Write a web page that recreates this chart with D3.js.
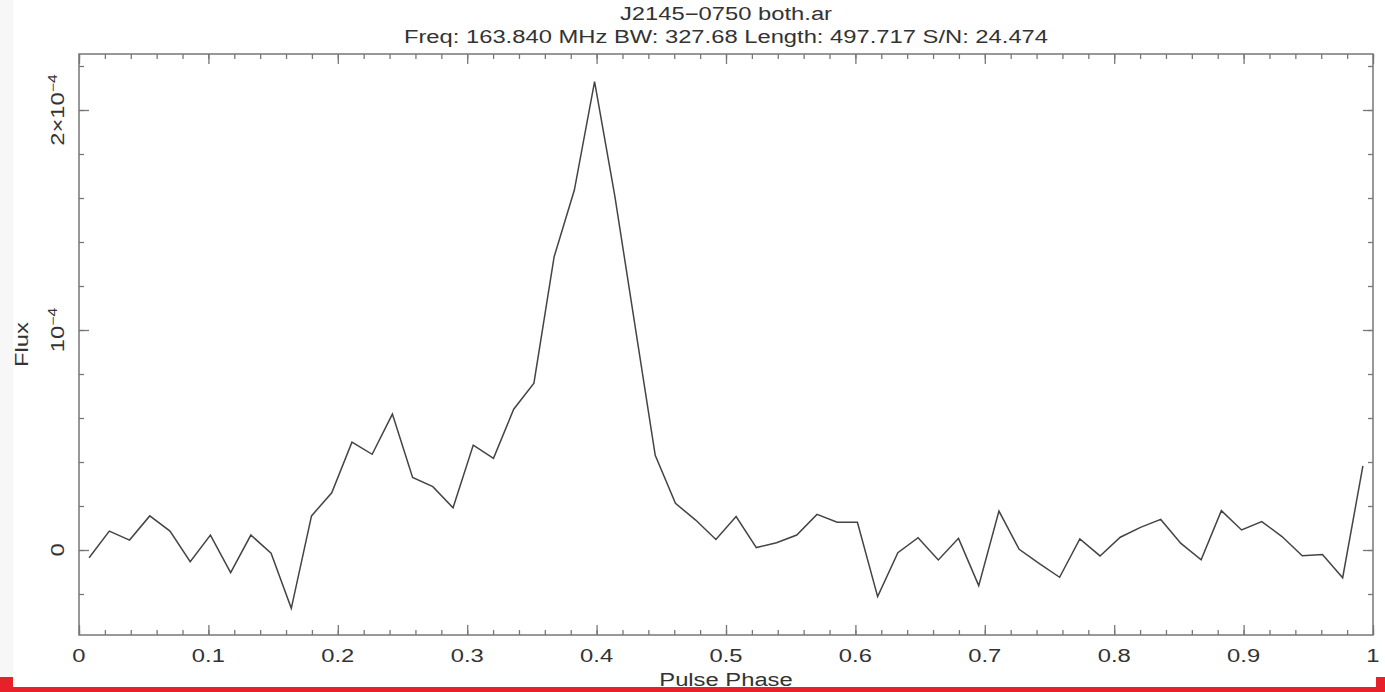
<!DOCTYPE html>
<html lang="en">
<head>
<meta charset="utf-8">
<title>J2145-0750 both.ar</title>
<script src="https://d3js.org/d3.v7.min.js"></script>
<style>
  body { margin: 0; background: #fff; }
  svg { display: block; }
  text { font-family: "Liberation Sans", Arial, sans-serif; fill: #333; }
  .axis path { display: none; }
  .axis line { stroke: #777; stroke-width: 1.3; }
</style>
</head>
<body>
<div id="chart"></div>
<script>
// profile: 64 phase bins, flux in units of 1e-4
var nbin = 64;
var fluxE4 = [
  -0.035, 0.086, 0.045, 0.155, 0.086, -0.053, 0.068, -0.103,
  0.068, -0.015, -0.265, 0.155, 0.26, 0.49, 0.435, 0.618,
  0.33, 0.288, 0.192, 0.477, 0.417, 0.64, 0.758, 1.333,
  1.636, 2.129, 1.61, 1.02, 0.43, 0.212, 0.136, 0.048,
  0.152, 0.011, 0.033, 0.068, 0.162, 0.126, 0.126, -0.212,
  -0.012, 0.056, -0.045, 0.053, -0.162, 0.177, 0.003, -0.062,
  -0.124, 0.05, -0.027, 0.058, 0.103, 0.139, 0.03, -0.045,
  0.179, 0.091, 0.129, 0.061, -0.026, -0.02, -0.126, 0.382
];
var xTicks = [0, 0.1, 0.2, 0.3, 0.4, 0.5, 0.6, 0.7, 0.8, 0.9, 1];
var xTickLabels = ["0", "0.1", "0.2", "0.3", "0.4", "0.5", "0.6", "0.7", "0.8", "0.9", "1"];
var yTicks = [0, 1e-4, 2e-4];
var yTickLabels = [["0", ""], ["10", "\u22124"], ["2\u00d710", "\u22124"]];
var title1 = "J2145\u22120750 both.ar";
var title2 = "Freq: 163.840 MHz BW: 327.68 Length: 497.717 S/N: 24.474";

var W = 1385, H = 692;
var pL = 79, pR = 1373, pT = 54, pB = 635;
var stretch = 1.32;   // pgplot glyphs are wide

var phase = d3.range(nbin).map(function(i) { return (i + 0.5) / nbin; });
var data = fluxE4.map(function(v, i) { return [phase[i], v * 1e-4]; });

var x = d3.scaleLinear().domain([0, 1]).range([pL, pR]);
var y = d3.scaleLinear().domain([-85 / 220 * 1e-4, 496 / 220 * 1e-4]).range([pB, pT]);

var svg = d3.select("#chart").append("svg")
  .attr("width", W).attr("height", H);

// faint strip at left edge and red band at bottom
svg.append("rect").attr("x", 0).attr("y", 0).attr("width", 13).attr("height", 677).attr("fill", "#f7f7f7");
svg.append("rect").attr("x", 0).attr("y", 677).attr("width", 13).attr("height", 15).attr("fill", "#e8202a");
svg.append("rect").attr("x", 0).attr("y", 687).attr("width", W).attr("height", 5).attr("fill", "#e8202a");
svg.append("rect").attr("x", 1376).attr("y", 677).attr("width", 9).attr("height", 15).attr("fill", "#e8202a");

var minorX = d3.range(0, 51).map(function(i) { return i / 50; });
var minorY = d3.range(-1, 12).map(function(i) { return i * 0.2e-4; });

function addAxis(axis, tx, ty) {
  svg.append("g").attr("class", "axis")
    .attr("transform", "translate(" + tx + "," + ty + ")")
    .call(axis);
}

// ticks point inward on all four sides
addAxis(d3.axisBottom(x).tickValues(minorX).tickSize(-5).tickFormat(""), 0, pB);
addAxis(d3.axisBottom(x).tickValues(xTicks).tickSize(-10).tickFormat(""), 0, pB);
addAxis(d3.axisTop(x).tickValues(minorX).tickSize(-5).tickFormat(""), 0, pT);
addAxis(d3.axisTop(x).tickValues(xTicks).tickSize(-10).tickFormat(""), 0, pT);
addAxis(d3.axisLeft(y).tickValues(minorY).tickSize(-5).tickFormat(""), pL, 0);
addAxis(d3.axisLeft(y).tickValues(yTicks).tickSize(-10).tickFormat(""), pL, 0);
addAxis(d3.axisRight(y).tickValues(minorY).tickSize(-5).tickFormat(""), pR, 0);
addAxis(d3.axisRight(y).tickValues(yTicks).tickSize(-10).tickFormat(""), pR, 0);

// frame
svg.append("rect")
  .attr("x", pL).attr("y", pT)
  .attr("width", pR - pL).attr("height", pB - pT)
  .attr("fill", "none").attr("stroke", "#777").attr("stroke-width", 1.5);

// x tick labels
svg.selectAll("text.xlab")
  .data(xTicks)
  .enter().append("text")
  .attr("class", "xlab")
  .attr("x", function(d) { return x(d); })
  .attr("y", 662)
  .attr("text-anchor", "middle")
  .attr("font-size", "18px")
  .text(function(d, i) { return xTickLabels[i]; });

// y tick labels, rotated
yTicks.forEach(function(d, i) {
  var t = svg.append("text")
    .attr("transform", "translate(64," + y(d) + ") rotate(-90)")
    .attr("text-anchor", "middle")
    .attr("font-size", "18px");
  t.append("tspan").text(yTickLabels[i][0]);
  if (yTickLabels[i][1]) {
    t.append("tspan").attr("dy", "-0.55em").attr("font-size", "12px").text(yTickLabels[i][1]);
  }
});

// axis titles
svg.append("text")
  .attr("transform", "translate(28," + (pT + pB) / 2 + ") rotate(-90)")
  .attr("text-anchor", "middle")
  .attr("font-size", "18px")
  .text("Flux");

svg.append("text")
  .attr("x", (pL + pR) / 2).attr("y", 686)
  .attr("text-anchor", "middle")
  .attr("font-size", "18px")
  .text("Pulse Phase");

svg.append("text")
  .attr("x", (pL + pR) / 2).attr("y", 20)
  .attr("text-anchor", "middle")
  .attr("font-size", "18px")
  .text(title1);

svg.append("text")
  .attr("x", (pL + pR) / 2).attr("y", 43)
  .attr("text-anchor", "middle")
  .attr("font-size", "18px")
  .text(title2);

// widen all text a bit
svg.selectAll("text").each(function() {
  var w = this.getComputedTextLength();
  d3.select(this).attr("textLength", w * stretch).attr("lengthAdjust", "spacingAndGlyphs");
});

// profile line
var line = d3.line()
  .x(function(d) { return x(d[0]); })
  .y(function(d) { return y(d[1]); });

svg.append("path")
  .datum(data)
  .attr("d", line)
  .attr("fill", "none")
  .attr("stroke", "#444")
  .attr("stroke-width", 1.5);
</script>
</body>
</html>
